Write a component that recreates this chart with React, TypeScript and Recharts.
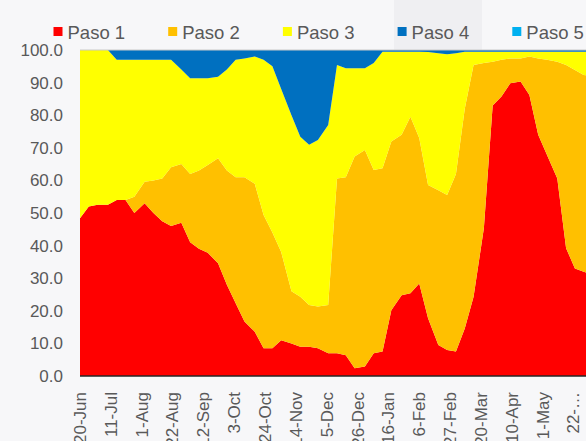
import React from "react"
import {AreaChart, Area, XAxis, YAxis, ReferenceLine} from "recharts"

// days after 20-Jun at which each sample was read
const sampleDays = [
    0, 6, 12, 19, 25, 31, 37, 44, 50, 56,
    62, 69, 75, 81, 87, 94, 100, 106, 112, 119,
    125, 131, 137, 144, 150, 156, 162, 169, 175, 181,
    187, 194, 200, 206, 212, 219, 225, 231, 237, 244,
    250, 256, 262, 268, 275, 281, 287, 293, 300, 306,
    312, 318, 325, 331, 337, 343, 350,
]

const xTicks = [0, 21, 42, 63, 84, 105, 126, 147, 168, 189, 210, 231, 252, 273, 294, 315, 336]
const tickLabels = [
    "20-Jun", "11-Jul", "1-Aug", "22-Aug", "12-Sep", "3-Oct", "24-Oct", "14-Nov", "5-Dec",
    "26-Dec", "16-Jan", "6-Feb", "27-Feb", "20-Mar", "10-Apr", "1-May", "22-…",
]

const paso1 = [
    48.4, 52, 52.5, 52.5, 54, 54, 50, 53, 50, 47.5,
    46, 47, 41, 39, 37.8, 34.6, 28, 22.3, 16.7, 13.6,
    8.5, 8.5, 11, 10, 9, 9, 8.5, 7, 7, 6.4,
    2.4, 2.9, 7, 7.5, 20.2, 24.8, 25.4, 28.4, 17.7, 9.5,
    8, 7.5, 14.6, 24.3, 45.3, 83, 85.7, 89.8, 90.3, 86.2,
    74, 67.8, 60.6, 39.2, 33, 32, 31,
]
const paso2 = [
    0, 0, 0, 0, 0, 0, 5, 6.6, 10, 13.1,
    18, 18, 21, 24, 26.9, 32.2, 35, 38.7, 44.3, 45.4,
    40.9, 35.5, 27, 16, 15.3, 12.8, 12.8, 14.8, 53.6, 54.6,
    64.9, 66.4, 56.2, 56.2, 51.7, 49.2, 54.1, 44.6, 40.9, 47.5,
    47.5, 54.5, 67.4, 71.1, 50.7, 13.4, 11.3, 7.6, 7.1, 11.8,
    23.4, 29.2, 35.8, 56.2, 60.9, 60.3, 61,
]
const paso3 = [
    51.6, 48, 47.5, 47.5, 43, 43, 42, 37.4, 37, 36.4,
    33, 29, 29.3, 28.3, 26.6, 25, 31, 36, 36.4, 39,
    47.6, 51, 50, 54, 49.1, 49.1, 51.1, 55.2, 34.8, 33.4,
    27.1, 25.1, 32.8, 35.8, 27.6, 25.5, 20, 26.5, 40.8, 42,
    43.2, 37, 17.5, 4.1, 3.5, 3.1, 2.5, 2.1, 2.1, 1.5,
    2.1, 2.5, 3.1, 4.1, 5.6, 7.2, 7.5,
]
const paso4 = [
    0, 0, 0, 0, 3, 3, 3, 3, 3, 3,
    3, 6, 8.7, 8.7, 8.7, 8.2, 6, 3, 2.6, 2,
    3, 5, 12, 20, 26.6, 29.1, 27.6, 23, 4.6, 5.6,
    5.6, 5.6, 4, 0.5, 0.5, 0.5, 0.5, 0.5, 0.6, 1,
    1.3, 1, 0.5, 0.5, 0.5, 0.5, 0.5, 0.5, 0.5, 0.5,
    0.5, 0.5, 0.5, 0.5, 0.5, 0.5, 0.5,
]
const paso5 = sampleDays.map(() => 0)

const yTicks = [0, 10, 20, 30, 40, 50, 60, 70, 80, 90, 100]

const series = [
    {key: "p1", name: "Paso 1", color: "#FF0000", values: paso1},
    {key: "p2", name: "Paso 2", color: "#FFC000", values: paso2},
    {key: "p3", name: "Paso 3", color: "#FFFF00", values: paso3},
    {key: "p4", name: "Paso 4", color: "#0070C0", values: paso4},
    {key: "p5", name: "Paso 5", color: "#00B0F0", values: paso5},
]

const chartData = sampleDays.map((day, i) => {
    const row: Record<string, number> = {day}
    series.forEach(s => { row[s.key] = s.values[i] })
    return row
})

const font = "'Liberation Sans', Arial, sans-serif"

const DateTick = ({x, y, payload}: any) => {
    const label = tickLabels[xTicks.indexOf(payload.value)] ?? ""
    return (
        <text
            transform={`translate(${x},${y + 3}) rotate(-90)`}
            textAnchor="end"
            dy="0.35em"
            fontSize={17}
            fontFamily={font}
            fill="#595959"
        >
            {label}
        </text>
    )
}

const App = () => {
    return (
        <div style={{position: "fixed", left: 0, top: 0, width: 586, height: 441, overflow: "hidden", background: "#f7f7f9", fontFamily: font}}>
            <div style={{position: "absolute", left: 394, top: 0, width: 88, height: 50, background: "#efeff2"}} />
            <svg width={586} height={50} style={{position: "absolute", left: 0, top: 0}}>
                {series.map((s, i) => (
                    <g key={s.key}>
                        <rect x={53.5 + i * 114.7} y={27} width={9} height={9} fill={s.color} />
                        <text x={67.5 + i * 114.7} y={39} fontSize={18.5} fill="#595959" fontFamily={font}>{s.name}</text>
                    </g>
                ))}
            </svg>
            <div style={{position: "absolute", left: 0, top: 0}}>
                <AreaChart width={594} height={441} data={chartData} margin={{top: 50, right: 0, bottom: 0, left: 0}}>
                    <XAxis
                        dataKey="day"
                        type="number"
                        domain={[0, 350]}
                        ticks={xTicks}
                        interval={0}
                        tickLine={false}
                        tickSize={0}
                        tickMargin={13}
                        height={65}
                        axisLine={{stroke: "#262626", strokeWidth: 1.5}}
                        tick={<DateTick />}
                    />
                    <YAxis
                        domain={[0, 100]}
                        ticks={yTicks}
                        tickFormatter={(v: number) => v.toFixed(1)}
                        axisLine={false}
                        tickLine={false}
                        tickSize={0}
                        tickMargin={17}
                        width={80}
                        tick={{fontSize: 17, fill: "#595959", fontFamily: font}}
                    />
                    {series.map(s => (
                        <Area
                            key={s.key}
                            type="linear"
                            dataKey={s.key}
                            name={s.name}
                            stackId="1"
                            stroke="none"
                            fill={s.color}
                            fillOpacity={1}
                            isAnimationActive={false}
                        />
                    ))}
                    <ReferenceLine y={100} stroke="#c8c8c8" />
                </AreaChart>
            </div>
        </div>
    )
}

export default App
